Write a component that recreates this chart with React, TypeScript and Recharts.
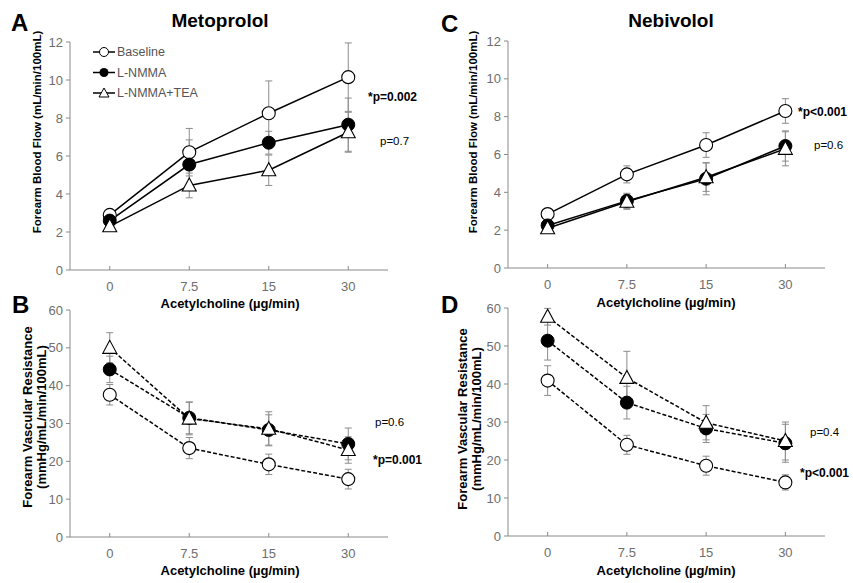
import React from "react";
import { LineChart, Line, XAxis, YAxis, ErrorBar } from "recharts";

// Acetylcholine doses (µg/min)
const doses = ["0", "7.5", "15", "30"];
const fbfTicks = [0, 2, 4, 6, 8, 10, 12];
const fvrTicks = [0, 10, 20, 30, 40, 50, 60];

// A: Metoprolol, forearm blood flow
const metoFbfBase = [2.9, 6.2, 8.25, 10.15];
const metoFbfBaseSe = [0.2, 1.25, 1.7, 1.8];
const metoFbfLnmma = [2.6, 5.55, 6.7, 7.65];
const metoFbfLnmmaSe = [0.2, 1.3, 0.6, 1.4];
const metoFbfTea = [2.3, 4.45, 5.25, 7.25];
const metoFbfTeaSe = [0.15, 0.65, 0.8, 1.05];

// B: Metoprolol, forearm vascular resistance
const metoFvrBase = [37.6, 23.5, 19.2, 15.3];
const metoFvrBaseSe = [2.7, 2.8, 2.7, 2.6];
const metoFvrLnmma = [44.3, 31.5, 28.3, 24.6];
const metoFvrLnmmaSe = [3.5, 4.2, 4.0, 4.2];
const metoFvrTea = [50.0, 31.3, 28.6, 23.0];
const metoFvrTeaSe = [4.0, 4.3, 4.5, 3.5];

// C: Nebivolol, forearm blood flow
const nebiFbfBase = [2.85, 4.95, 6.5, 8.3];
const nebiFbfBaseSe = [0.15, 0.45, 0.65, 0.65];
const nebiFbfLnmma = [2.25, 3.55, 4.72, 6.45];
const nebiFbfLnmmaSe = [0.3, 0.4, 0.85, 0.8];
const nebiFbfTea = [2.1, 3.5, 4.8, 6.3];
const nebiFbfTeaSe = [0.2, 0.4, 0.75, 0.9];

// D: Nebivolol, forearm vascular resistance
const nebiFvrBase = [40.9, 24.0, 18.5, 14.1];
const nebiFvrBaseSe = [3.9, 2.5, 2.5, 2.0];
const nebiFvrLnmma = [51.4, 35.1, 28.3, 24.4];
const nebiFvrLnmmaSe = [5.1, 4.3, 3.7, 5.0];
const nebiFvrTea = [57.7, 41.6, 29.8, 25.0];
const nebiFvrTeaSe = [2.2, 7.0, 4.5, 5.0];

const FONT = "'Liberation Sans', Arial, sans-serif";
const AXIS = "#8a8a8a";
const TICK = "#6e6e6e";
const ERR = "#8c8c8c";

function buildRows(
  base: number[], baseSe: number[],
  lnmma: number[], lnmmaSe: number[],
  tea: number[], teaSe: number[]
) {
  return doses.map((dose, i) => ({
    dose,
    base: base[i], baseSe: baseSe[i],
    lnmma: lnmma[i], lnmmaSe: lnmmaSe[i],
    tea: tea[i], teaSe: teaSe[i],
  }));
}

function openDot(p: any) {
  if (p.cx == null || p.cy == null) return <g key={p.index} />;
  return <circle key={p.index} cx={p.cx} cy={p.cy} r={6.5} fill="#fff" stroke="#000" strokeWidth={1.1} />;
}

function filledDot(p: any) {
  if (p.cx == null || p.cy == null) return <g key={p.index} />;
  return <circle key={p.index} cx={p.cx} cy={p.cy} r={6.5} fill="#000" stroke="#000" strokeWidth={1} />;
}

function triangleDot(p: any) {
  if (p.cx == null || p.cy == null) return <g key={p.index} />;
  const { cx, cy } = p;
  const pts = `${cx},${cy - 7.5} ${cx - 7},${cy + 5.5} ${cx + 7},${cy + 5.5}`;
  return <polygon key={p.index} points={pts} fill="#fff" stroke="#000" strokeWidth={1.1} />;
}

function DoseTick({ x, y, payload }: any) {
  return (
    <g>
      <line x1={x} x2={x} y1={y - 4} y2={y} stroke={AXIS} />
      <text x={x} y={y + 16} dy="0.35em" textAnchor="middle" fill={TICK} fontSize={13} fontFamily={FONT}>
        {payload.value}
      </text>
    </g>
  );
}

interface PanelProps {
  left: number;
  top: number;
  width: number;
  height: number;
  marginTop: number;
  marginRight: number;
  ticks: number[];
  dashed: boolean;
  rows: ReturnType<typeof buildRows>;
}

function Panel({ left, top, width, height, marginTop, marginRight, ticks, dashed, rows }: PanelProps) {
  const dash = dashed ? "4 2" : undefined;
  return (
    <div style={{ position: "absolute", left, top }}>
      <LineChart
        width={width}
        height={height}
        data={rows}
        margin={{ top: marginTop, right: marginRight, bottom: 0, left: 0 }}
      >
        <XAxis
          dataKey="dose"
          scale="band"
          height={30}
          tickSize={0}
          tickMargin={0}
          tickLine={false}
          axisLine={{ stroke: AXIS }}
          tick={<DoseTick />}
          interval={0}
        />
        <YAxis
          width={70}
          domain={[ticks[0], ticks[ticks.length - 1]]}
          ticks={ticks}
          interval={0}
          tickSize={4}
          tickMargin={3}
          axisLine={{ stroke: AXIS }}
          tickLine={{ stroke: AXIS }}
          tick={{ fill: TICK, fontSize: 13, fontFamily: FONT }}
        />
        <Line
          dataKey="base"
          type="linear"
          stroke="#000"
          strokeWidth={1.5}
          strokeDasharray={dash}
          dot={openDot}
          activeDot={false}
          isAnimationActive={false}
        >
          <ErrorBar dataKey="baseSe" width={3.5} stroke={ERR} strokeWidth={1} direction="y" />
        </Line>
        <Line
          dataKey="lnmma"
          type="linear"
          stroke="#000"
          strokeWidth={1.5}
          strokeDasharray={dash}
          dot={filledDot}
          activeDot={false}
          isAnimationActive={false}
        >
          <ErrorBar dataKey="lnmmaSe" width={3.5} stroke={ERR} strokeWidth={1} direction="y" />
        </Line>
        <Line
          dataKey="tea"
          type="linear"
          stroke="#000"
          strokeWidth={1.5}
          strokeDasharray={dash}
          dot={triangleDot}
          activeDot={false}
          isAnimationActive={false}
        >
          <ErrorBar dataKey="teaSe" width={3.5} stroke={ERR} strokeWidth={1} direction="y" />
        </Line>
      </LineChart>
    </div>
  );
}

// text placed by its left edge (or centre) and vertical centre
function Txt({ x, y, size, bold, center, color, children }: any) {
  return (
    <div
      style={{
        position: "absolute",
        left: x,
        top: y,
        transform: center ? "translate(-50%, -50%)" : "translateY(-50%)",
        fontSize: size,
        fontWeight: bold ? 700 : 400,
        color: color || "#000",
        lineHeight: 1,
        whiteSpace: "nowrap",
        fontFamily: FONT,
      }}
    >
      {children}
    </div>
  );
}

function YTitle({ x, y, size, lines }: { x: number; y: number; size: number; lines: string[] }) {
  return (
    <div
      style={{
        position: "absolute",
        left: x,
        top: y,
        transform: "translate(-50%, -50%) rotate(-90deg)",
        fontSize: size,
        fontWeight: 700,
        lineHeight: "14px",
        textAlign: "center",
        whiteSpace: "nowrap",
        fontFamily: FONT,
        color: "#000",
      }}
    >
      {lines.map((l) => (
        <div key={l}>{l}</div>
      ))}
    </div>
  );
}

function LegendBox({ x, y }: { x: number; y: number }) {
  const rows = [
    { label: "Baseline", kind: "open" },
    { label: "L-NMMA", kind: "filled" },
    { label: "L-NMMA+TEA", kind: "tri" },
  ];
  return (
    <svg style={{ position: "absolute", left: x, top: y }} width={110} height={64}>
      {rows.map((r, i) => {
        const cy = 10 + i * 20.5;
        return (
          <g key={r.label}>
            <line x1={0} x2={22} y1={cy} y2={cy} stroke="#000" strokeWidth={1.5} />
            {r.kind === "open" && <circle cx={11} cy={cy} r={4.5} fill="#fff" stroke="#000" />}
            {r.kind === "filled" && <circle cx={11} cy={cy} r={4.5} fill="#000" />}
            {r.kind === "tri" && (
              <polygon points={`11,${cy - 5} 6,${cy + 4} 16,${cy + 4}`} fill="#fff" stroke="#000" />
            )}
            <text x={24} y={cy} dy="0.35em" fontSize={12.5} fill="#555" fontFamily={FONT}>
              {r.label}
            </text>
          </g>
        );
      })}
    </svg>
  );
}

export default function App() {
  const xTitle = "Acetylcholine (µg/min)";
  return (
    <div style={{ position: "relative", width: 853, height: 583, background: "#fff", overflow: "hidden" }}>
      <style>{"body{margin:0}"}</style>

      <Panel left={0} top={0} width={400} height={300} marginTop={42} marginRight={12} ticks={fbfTicks} dashed={false}
        rows={buildRows(metoFbfBase, metoFbfBaseSe, metoFbfLnmma, metoFbfLnmmaSe, metoFbfTea, metoFbfTeaSe)} />
      <Panel left={0} top={290} width={400} height={277} marginTop={20} marginRight={12} ticks={fvrTicks} dashed
        rows={buildRows(metoFvrBase, metoFvrBaseSe, metoFvrLnmma, metoFvrLnmmaSe, metoFvrTea, metoFvrTeaSe)} />
      <Panel left={438} top={0} width={400} height={298} marginTop={41} marginRight={13} ticks={fbfTicks} dashed={false}
        rows={buildRows(nebiFbfBase, nebiFbfBaseSe, nebiFbfLnmma, nebiFbfLnmmaSe, nebiFbfTea, nebiFbfTeaSe)} />
      <Panel left={438} top={290} width={400} height={276} marginTop={18} marginRight={13} ticks={fvrTicks} dashed
        rows={buildRows(nebiFvrBase, nebiFvrBaseSe, nebiFvrLnmma, nebiFvrLnmmaSe, nebiFvrTea, nebiFvrTeaSe)} />

      <LegendBox x={93} y={42} />

      {/* panel letters and titles */}
      <Txt x={11} y={23} size={24} bold>A</Txt>
      <Txt x={441} y={24} size={24} bold>C</Txt>
      <Txt x={12} y={305} size={24} bold>B</Txt>
      <Txt x={441} y={305} size={24} bold>D</Txt>
      <Txt x={220} y={20} size={19} bold center>Metoprolol</Txt>
      <Txt x={671} y={20} size={19} bold center>Nebivolol</Txt>

      {/* axis titles */}
      <Txt x={230} y={303} size={13} bold center>{xTitle}</Txt>
      <Txt x={230} y={570} size={13} bold center>{xTitle}</Txt>
      <Txt x={666} y={302} size={13} bold center>{xTitle}</Txt>
      <Txt x={666} y={570} size={13} bold center>{xTitle}</Txt>
      <YTitle x={37} y={132} size={11.5} lines={["Forearm Blood Flow (mL/min/100mL)"]} />
      <YTitle x={473} y={132} size={11.5} lines={["Forearm Blood Flow (mL/min/100mL)"]} />
      <YTitle x={35} y={417} size={13} lines={["Forearm Vascular Resistance", "(mmHg/mL/min/100mL)"]} />
      <YTitle x={470} y={419} size={13} lines={["Forearm Vascular Resistance", "(mmHg/mL/min/100mL)"]} />

      {/* p-values */}
      <Txt x={368} y={97} size={12} bold>*p=0.002</Txt>
      <Txt x={380} y={142} size={11.5}>p=0.7</Txt>
      <Txt x={798} y={112} size={12} bold>*p&lt;0.001</Txt>
      <Txt x={814} y={146} size={11.5}>p=0.6</Txt>
      <Txt x={375} y={423} size={11.5}>p=0.6</Txt>
      <Txt x={373} y={460} size={12} bold>*p=0.001</Txt>
      <Txt x={810} y={433} size={11.5}>p=0.4</Txt>
      <Txt x={800} y={473} size={12} bold>*p&lt;0.001</Txt>
    </div>
  );
}
